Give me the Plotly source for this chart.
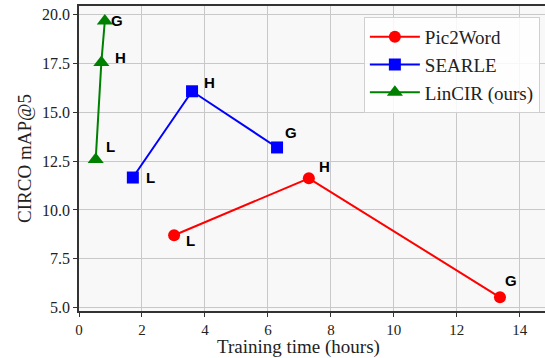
import plotly.graph_objects as go

series_names = ["Pic2Word", "SEARLE", "LinCIR (ours)"]
point_labels = ["L", "H", "G"]
pic2word_time = [3.02, 7.30, 13.37]
pic2word_map = [8.70, 11.62, 5.52]
searle_time = [1.71, 3.59, 6.29]
searle_map = [11.66, 16.08, 13.20]
lincir_time = [0.53, 0.71, 0.82]
lincir_map = [12.58, 17.56, 19.68]

colors = ["#ff0000", "#0000ff", "#008000"]
symbols = ["circle", "square", "triangle-up"]
msizes = [12, 12, 14]
# label pixel offsets (dx, dy) per series per point
offsets = [
    [(16, -5), (16, 12), (11, 17)],
    [(18, 0), (17, 9), (14, 15)],
    [(15, 13), (19, 5), (12, 1)],
]

xs = [pic2word_time, searle_time, lincir_time]
ys = [pic2word_map, searle_map, lincir_map]

SERIF = "Liberation Serif"

fig = go.Figure()
for i in range(3):
    fig.add_trace(go.Scatter(
        x=xs[i], y=ys[i], mode="lines+markers", name=series_names[i],
        line=dict(color=colors[i], width=2),
        marker=dict(symbol=symbols[i], size=msizes[i], color=colors[i]),
    ))
    for j in range(3):
        dx, dy = offsets[i][j]
        fig.add_annotation(x=xs[i][j], y=ys[i][j], text="<b>" + point_labels[j] + "</b>",
                           showarrow=False, xshift=dx, yshift=dy,
                           font=dict(family="Liberation Sans", size=15, color="black"))

# x-axis title as annotation (slightly left of axis centre, as in reference)
fig.add_annotation(x=0.47, y=-0.158, xref="paper", yref="paper", xanchor="center", yanchor="bottom",
                   text="Training time (hours)", showarrow=False, borderpad=0,
                   font=dict(family=SERIF, size=19, color="#222"))

axis_common = dict(
    showgrid=True, gridcolor="#c8c8c8", gridwidth=1,
    showline=True, linecolor="#333333", linewidth=1.5, mirror=True,
    ticks="outside", ticklen=4, tickcolor="#333333",
    zeroline=False, automargin=False,
)
fig.update_xaxes(range=[0, 14.8], tickvals=[0, 2, 4, 6, 8, 10, 12, 14],
                 tickfont=dict(family=SERIF, size=15, color="#222"), **axis_common)
fig.update_yaxes(range=[4.82, 20.45], tickvals=[5, 7.5, 10, 12.5, 15, 17.5, 20],
                 ticktext=["5.0", "7.5", "10.0", "12.5", "15.0", "17.5", "20.0"],
                 tickfont=dict(family=SERIF, size=16, color="#222"),
                 title=dict(text="CIRCO mAP@5", standoff=5,
                            font=dict(family=SERIF, size=19, color="#222")),
                 **axis_common)

fig.update_layout(
    width=545, height=358,
    margin=dict(l=79, r=0, t=6, b=47),
    paper_bgcolor="white", plot_bgcolor="#f8f8f8",
    showlegend=True,
    legend=dict(x=0.989, y=0.964, xanchor="right", yanchor="top",
                bgcolor="rgba(255,255,255,0.85)", bordercolor="#d0d0d0", borderwidth=1,
                font=dict(family=SERIF, size=19, color="#222"),
                itemwidth=50, tracegroupgap=0),
)

fig.write_html("out.html", config={"displayModeBar": False},
               post_script="document.body.style.margin='0';document.body.style.overflow='hidden';")
